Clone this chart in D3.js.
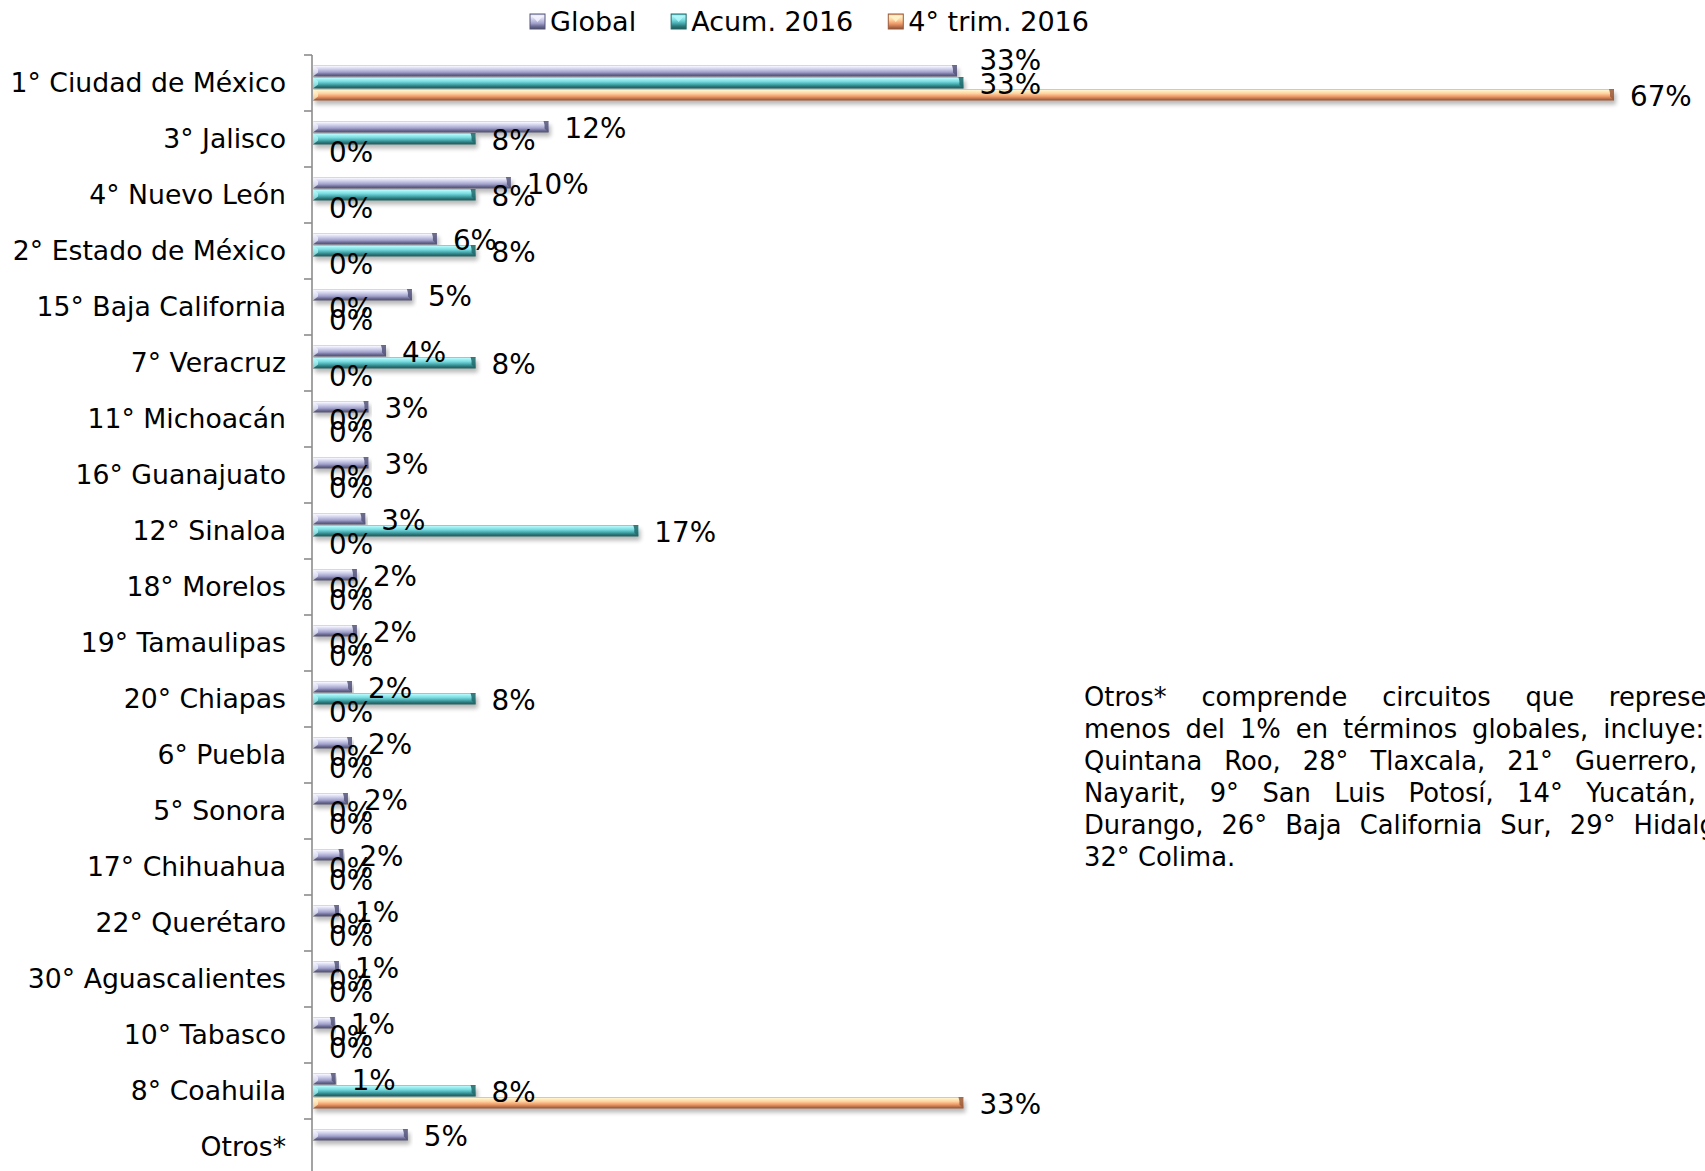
<!DOCTYPE html>
<html><head><meta charset="utf-8">
<script src="https://cdn.jsdelivr.net/npm/d3@7"></script>
<style>
body{margin:0;background:#fff;overflow:hidden}
svg{display:block}
text{font-family:"DejaVu Sans",Verdana,sans-serif;fill:#000}
</style>
</head><body>
<svg id="chart" width="1705" height="1171"></svg>
<script>
// ---------- data ----------
const categories = ["1° Ciudad de México","3° Jalisco","4° Nuevo León","2° Estado de México","15° Baja California","7° Veracruz","11° Michoacán","16° Guanajuato","12° Sinaloa","18° Morelos","19° Tamaulipas","20° Chiapas","6° Puebla","5° Sonora","17° Chihuahua","22° Querétaro","30° Aguascalientes","10° Tabasco","8° Coahuila","Otros*"];
const seriesNames = ["Global","Acum. 2016","4° trim. 2016"];
const globalValues = [33.0,12.07,10.14,6.35,5.07,3.74,2.84,2.84,2.68,2.25,2.25,2.0,2.0,1.79,1.56,1.33,1.33,1.12,1.16,4.86];
const acumValues   = [33.33,8.33,8.33,8.33,0,8.33,0,0,16.67,0,0,8.33,0,0,0,0,0,0,8.33,null];
const trimValues   = [66.67,0,0,0,0,0,0,0,0,0,0,0,0,0,0,0,0,0,33.33,null];
const noteLines = [
  ["Otros*","comprende","circuitos","que","representan"],
  ["menos","del","1%","en","términos","globales,","incluye:","13°"],
  ["Quintana","Roo,","28°","Tlaxcala,","21°","Guerrero,","23°"],
  ["Nayarit,","9°","San","Luis","Potosí,","14°","Yucatán,","25°"],
  ["Durango,","26°","Baja","California","Sur,","29°","Hidalgo","y"],
  ["32°","Colima."]
];

// ---------- styles ----------
const palettes = [
  ["#c4c4e4","#f4f4ff","#cacae8","#a2a2cc","#70709a","#4a4a64"],
  ["#58c2c6","#b4f8fa","#7adee2","#48acb0","#2e7a7c","#1e5658"],
  ["#eea070","#fff4cc","#ffd4a0","#f2a06e","#c87a52","#8a5034"]
];
const capColors = ["#55557a","#22686a","#9a5a3a"];

const svg = d3.select("#chart");
const defs = svg.append("defs");
const offs = [0,0.12,0.38,0.62,0.8,1];
palettes.forEach((p,i)=>{
  const g = defs.append("linearGradient").attr("id","g"+i)
    .attr("x1",0).attr("y1",0).attr("x2",0).attr("y2",1);
  p.forEach((c,j)=>g.append("stop").attr("offset",offs[j]).attr("stop-color",c));
});
const f = defs.append("filter").attr("id","sh").attr("x","-5%").attr("y","-50%").attr("width","110%").attr("height","250%");
f.append("feGaussianBlur").attr("in","SourceAlpha").attr("stdDeviation",2.2).attr("result","b");
f.append("feOffset").attr("in","b").attr("dx",2).attr("dy",4).attr("result","o");
f.append("feComponentTransfer").attr("in","o").attr("result","o2")
  .append("feFuncA").attr("type","linear").attr("slope",0.28);
const fm = f.append("feMerge");
fm.append("feMergeNode").attr("in","o2");
fm.append("feMergeNode").attr("in","SourceGraphic");

// ---------- scales ----------
const axisX = 312;
const valuesBySeries = [globalValues, acumValues, trimValues];
const maxV = d3.max(valuesBySeries.flat());
const x = d3.scaleLinear().domain([0, maxV]).range([axisX + 1, 1614]);
const y = d3.scaleBand().domain(categories).range([55, 55 + 56*categories.length]).padding(0);
const sub = d3.scaleBand().domain(seriesNames).range([10, 46]).padding(0);
const bh = sub.bandwidth();

// ---------- axis ----------
svg.append("line").attr("x1",axisX).attr("x2",axisX).attr("y1",y.range()[0]).attr("y2",1171)
  .attr("stroke","#8c8c8c").attr("stroke-width",1.6);
const tickYs = categories.map(c=>y(c)).concat([y.range()[1]]);
svg.append("g").selectAll("line").data(tickYs).join("line")
  .attr("x1",axisX-8).attr("x2",axisX).attr("y1",d=>d).attr("y2",d=>d)
  .attr("stroke","#8c8c8c").attr("stroke-width",1.6);
svg.append("g").selectAll("text").data(categories).join("text")
  .attr("x",axisX-26).attr("y",c=>y(c)+y.bandwidth()/2).attr("dy","0.35em")
  .attr("text-anchor","end").style("font-size","26.7px").text(c=>c);

// ---------- bars ----------
const barsData = [];
categories.forEach((c,ci)=>{
  seriesNames.forEach((s,si)=>{
    const v = valuesBySeries[si][ci];
    barsData.push({c, s, si, v});
  });
});
const gb = svg.append("g");
const drawn = barsData.filter(d=>d.v!==null && d.v>0);
const bar = gb.selectAll("g").data(drawn).join("g").attr("filter","url(#sh)");
bar.append("rect")
  .attr("x",x(0)).attr("y",d=>y(d.c)+sub(d.s))
  .attr("width",d=>x(d.v)-x(0)).attr("height",bh-0.5)
  .attr("fill",d=>`url(#g${d.si})`);
bar.append("path")
  .attr("d",d=>{const xe=x(d.v), y0=y(d.c)+sub(d.s), h=bh-0.5;
    return `M${xe-5},${y0}L${xe},${y0}L${xe},${y0+h}L${xe-4},${y0+h-4}L${xe-4},${y0+4}Z`;})
  .attr("fill",d=>capColors[d.si]).attr("opacity",0.85);
bar.append("path")
  .attr("d",d=>{const xs=x(0), y0=y(d.c)+sub(d.s), h=bh-0.5;
    return `M${xs},${y0}L${xs+5},${y0+4}L${xs+5},${y0+h-4}L${xs},${y0+h}Z`;})
  .attr("fill",d=>palettes[d.si][1]).attr("opacity",0.7);

// ---------- data labels ----------
const labels = barsData.filter(d=>d.v!==null).map(d=>({
  ...d, lx: x(d.v)+16, ly: y(d.c)+sub(d.s)+bh/2+1
}));
categories.forEach(c=>{
  const row = labels.filter(l=>l.c===c && l.v>0);
  for(let i=0;i<row.length;i++) for(let j=i+1;j<row.length;j++){
    if(Math.abs(row[i].lx-row[j].lx)<12 && Math.abs(row[i].ly-row[j].ly)<20){
      row[i].ly -= 12; row[i].lx = row[j].lx;
    }
  }
});
svg.append("g").selectAll("text").data(labels).join("text")
  .attr("x",d=>d.lx).attr("y",d=>d.ly).attr("dy","0.35em")
  .style("font-size","27.8px").text(d=>Math.round(d.v)+"%");

// ---------- legend ----------
const lg = svg.append("g");
let lx = 530;
seriesNames.forEach((s,i)=>{
  const it = lg.append("g");
  it.append("rect").attr("x",lx).attr("y",14).attr("width",15).attr("height",15)
    .attr("fill",`url(#g${i})`).attr("stroke",capColors[i]).attr("stroke-width",1);
  it.append("path").attr("d",`M${lx+2},${16}L${lx+13},${16}L${lx+7.5},${22}Z`).attr("fill",palettes[i][1]).attr("opacity",0.8);
  const t = it.append("text").attr("x",lx+20).attr("y",21.5).attr("dy","0.35em")
    .style("font-size","27px").text(s);
  lx += 20 + t.node().getComputedTextLength() + 35;
});

// ---------- note (justified, clipped at the page edge) ----------
const nx0 = 1084, nRight = 1765, nFont = 25.8;
const ng = svg.append("g").style("font-size", nFont+"px");
noteLines.forEach((words,li)=>{
  const by = 697 + li*32;
  const tmp = words.map(w=>{
    const t = ng.append("text").attr("y",by).attr("dy","0.35em").text(w);
    return {t, w: t.node().getComputedTextLength()};
  });
  const total = d3.sum(tmp,d=>d.w);
  const last = li===noteLines.length-1;
  const gap = last ? nFont*0.32 : (nRight - nx0 - total)/(words.length-1);
  let cx = nx0;
  tmp.forEach(d=>{ d.t.attr("x",cx); cx += d.w + gap; });
});
</script>
</body></html>
